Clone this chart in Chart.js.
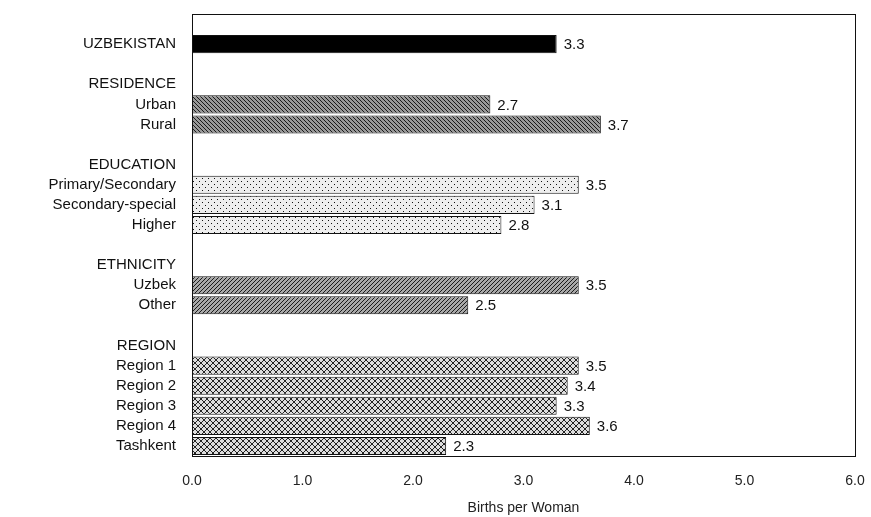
<!DOCTYPE html>
<html>
<head>
<meta charset="utf-8">
<script src="https://cdn.jsdelivr.net/npm/chart.js@4"></script>
<style>
  html, body { margin: 0; padding: 0; background: #fff; }
  #wrap { width: 871px; height: 517px; }
</style>
</head>
<body>
<div id="wrap"><canvas id="chart"></canvas></div>
<script>
const labels = ['', 'UZBEKISTAN', '', 'RESIDENCE', 'Urban', 'Rural', '', 'EDUCATION',
    'Primary/Secondary', 'Secondary-special', 'Higher', '', 'ETHNICITY', 'Uzbek', 'Other', '',
    'REGION', 'Region 1', 'Region 2', 'Region 3', 'Region 4', 'Tashkent'];
const births = [null, 3.3, null, null, 2.7, 3.7, null, null,
    3.5, 3.1, 2.8, null, null, 3.5, 2.5, null,
    null, 3.5, 3.4, 3.3, 3.6, 2.3];
// which fill each row gets
const groups = ['', 'total', '', '', 'residence', 'residence', '', '',
    'education', 'education', 'education', '', '', 'ethnicity', 'ethnicity', '',
    '', 'region', 'region', 'region', 'region', 'region'];
const xTicks = [0, 1, 2, 3, 4, 5, 6];

const FONT = '"Liberation Sans", Arial, sans-serif';

// small hatch patterns like the printed report
function makePattern(size, draw) {
    const c = document.createElement('canvas');
    c.width = size; c.height = size;
    const g = c.getContext('2d');
    g.fillStyle = '#fff';
    g.fillRect(0, 0, size, size);
    draw(g, size);
    return document.querySelector('#chart').getContext('2d').createPattern(c, 'repeat');
}

const fills = {
    total: '#000',
    residence: makePattern(4, (g, s) => {
        g.fillStyle = '#999';
        g.fillRect(0, 0, s, s);
        g.fillStyle = '#1a1a1a';
        for (let i = 0; i < s; i++) g.fillRect(i, i, 1, 1);
    }),
    education: makePattern(6, (g) => {
        g.fillStyle = '#eee';
        g.fillRect(0, 0, 6, 6);
        g.fillStyle = '#111';
        g.fillRect(1, 1, 1, 1);
        g.fillRect(4, 4, 1, 1);
    }),
    ethnicity: makePattern(4, (g, s) => {
        g.fillStyle = '#a8a8a8';
        g.fillRect(0, 0, s, s);
        g.fillStyle = '#1a1a1a';
        for (let i = 0; i < s; i++) g.fillRect(s - 1 - i, i, 1, 1);
    }),
    region: makePattern(6, (g, s) => {
        g.fillStyle = '#ddd';
        g.fillRect(0, 0, s, s);
        g.fillStyle = '#222';
        for (let i = 0; i < s; i++) {
            g.fillRect(i, i, 1, 1);
            g.fillRect(s - 1 - i, i, 1, 1);
        }
    })
};

// value labels at the end of each bar
const valueLabels = {
    id: 'valueLabels',
    afterDatasetsDraw(chart) {
        const ctx = chart.ctx;
        const meta = chart.getDatasetMeta(0);
        ctx.save();
        ctx.font = '15px ' + FONT;
        ctx.fillStyle = '#111';
        ctx.textAlign = 'left';
        ctx.textBaseline = 'middle';
        meta.data.forEach((bar, i) => {
            const v = births[i];
            if (v == null) return;
            ctx.fillText(v.toFixed(1), bar.x + 7, bar.y + 1);
        });
        ctx.restore();
    }
};

// box round the plot area
const frame = {
    id: 'frame',
    afterDraw(chart) {
        const a = chart.chartArea;
        const ctx = chart.ctx;
        ctx.save();
        ctx.strokeStyle = '#111';
        ctx.lineWidth = 1;
        ctx.strokeRect(Math.round(a.left) + 0.5, Math.round(a.top) + 0.5,
            Math.round(a.right - a.left), Math.round(a.bottom - a.top));
        ctx.restore();
    }
};

new Chart(document.querySelector('#chart'), {
    type: 'bar',
    data: {
        labels: labels,
        datasets: [{
            label: 'Births per Woman',
            data: births,
            backgroundColor: groups.map(g => fills[g] || '#000'),
            borderColor: '#111',
            borderWidth: 1,
            barPercentage: 0.9,
            categoryPercentage: 1.0
        }]
    },
    options: {
        indexAxis: 'y',
        responsive: true,
        maintainAspectRatio: false,
        animation: false,
        layout: { padding: { top: 14, right: 16, left: 0, bottom: 0 } },
        plugins: {
            legend: { display: false },
            tooltip: { enabled: false }
        },
        scales: {
            x: {
                min: 0,
                max: 6,
                afterBuildTicks: (axis) => { axis.ticks = xTicks.map(v => ({ value: v })); },
                afterFit: (axis) => {
                    axis.height = 61;
                    axis.paddingLeft = 0;
                    axis.paddingRight = 0;
                },
                grid: { display: false, drawTicks: false },
                border: { display: false },
                ticks: {
                    padding: 17,
                    color: '#222',
                    font: { family: FONT, size: 14 },
                    callback: (v) => Number(v).toFixed(1)
                },
                title: {
                    display: true,
                    text: 'Births per Woman',
                    color: '#222',
                    font: { family: FONT, size: 14 },
                    padding: { top: 6, bottom: 0 }
                }
            },
            y: {
                afterFit: (axis) => {
                    axis.width = 192;
                    axis.paddingTop = 0;
                    axis.paddingBottom = 0;
                },
                grid: { display: false, drawTicks: false },
                border: { display: false },
                ticks: {
                    autoSkip: false,
                    padding: 16,
                    color: '#111',
                    font: { family: FONT, size: 15 }
                }
            }
        }
    },
    plugins: [valueLabels, frame]
});
</script>
</body>
</html>
